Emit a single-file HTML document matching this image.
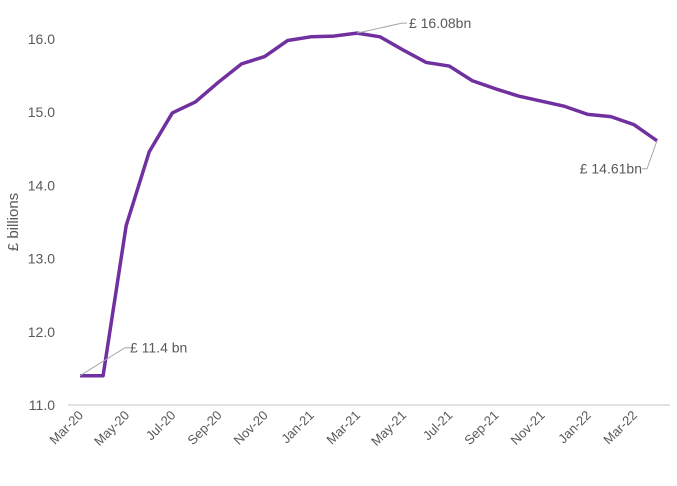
<!DOCTYPE html>
<html><head><meta charset="utf-8"><style>
body{margin:0;background:#fff;}
svg text{font-family:"Liberation Sans",sans-serif;fill:#595959;}
</style></head><body>
<svg id="chart" width="677" height="481">
<line x1="68" y1="405" x2="670" y2="405" stroke="#d9d9d9" stroke-width="1.5"/>
<text x="18" y="222" font-size="15" text-anchor="middle" transform="rotate(-90 18 222)">£ billions</text>
<g id="yticks"></g><g id="xticks"></g>
<path id="line" fill="none" stroke="#7030a0" stroke-width="3.5" stroke-linejoin="round"/>
<g id="ann"></g>
</svg>
<script>
const categories=["Mar-20","Apr-20","May-20","Jun-20","Jul-20","Aug-20","Sep-20","Oct-20","Nov-20","Dec-20","Jan-21","Feb-21","Mar-21","Apr-21","May-21","Jun-21","Jul-21","Aug-21","Sep-21","Oct-21","Nov-21","Dec-21","Jan-22","Feb-22","Mar-22","Apr-22"];
const values=[11.4,11.4,13.45,14.46,14.99,15.14,15.41,15.66,15.76,15.98,16.03,16.04,16.08,16.03,15.85,15.68,15.63,15.43,15.32,15.22,15.15,15.08,14.97,14.94,14.83,14.61];
const yTicks=[11.0,12.0,13.0,14.0,15.0,16.0];
const labels=[{i:0,text:"£ 11.4 bn"},{i:12,text:"£ 16.08bn"},{i:25,text:"£ 14.61bn"}];
const NS="http://www.w3.org/2000/svg";
const x=i=>80+i*(657-80)/(categories.length-1);
const y=v=>405-(v-11)*73.2;
function mk(t,a,p){const e=document.createElementNS(NS,t);for(const k in a)e.setAttribute(k,a[k]);p.appendChild(e);return e;}
const yt=document.getElementById('yticks');
yTicks.forEach(v=>{const t=mk('text',{x:55,y:y(v)+5,'font-size':14,'text-anchor':'end'},yt);


t.textContent=v.toFixed(1);});
const xt=document.getElementById('xticks');
categories.forEach((c,i)=>{if(i%2)return;const px=x(i)+4,py=416;
const t=mk('text',{x:px,y:py,'font-size':13,'text-anchor':'end',transform:`rotate(-45 ${px} ${py})`},xt);


t.textContent=c;});
document.getElementById('line').setAttribute('d',values.map((v,i)=>(i?'L':'M')+x(i)+','+y(values[i])).join(''));
const an=document.getElementById('ann');
labels.forEach(l=>{const px=x(l.i),py=y(values[l.i]);let lx,ly,tx,anchor;
if(l.i===0){lx=px+45;ly=py-28;tx=lx+5;anchor='start';mk('polyline',{points:`${px},${py} ${lx},${ly} ${lx+5},${ly}`,fill:'none',stroke:'#a6a6a6'},an);}
else if(l.i===12){lx=px+45;ly=py-10;tx=lx+7;anchor='start';mk('polyline',{points:`${px},${py} ${lx},${ly} ${lx+5},${ly}`,fill:'none',stroke:'#a6a6a6'},an);}
else{lx=px-10;ly=py+28;tx=lx-5;anchor='end';mk('polyline',{points:`${px},${py} ${lx},${ly} ${lx-5},${ly}`,fill:'none',stroke:'#a6a6a6'},an);}
const t=mk('text',{x:tx,y:ly+5,'font-size':14,'text-anchor':anchor},an);


t.textContent=l.text;});
</script>
</body></html>
